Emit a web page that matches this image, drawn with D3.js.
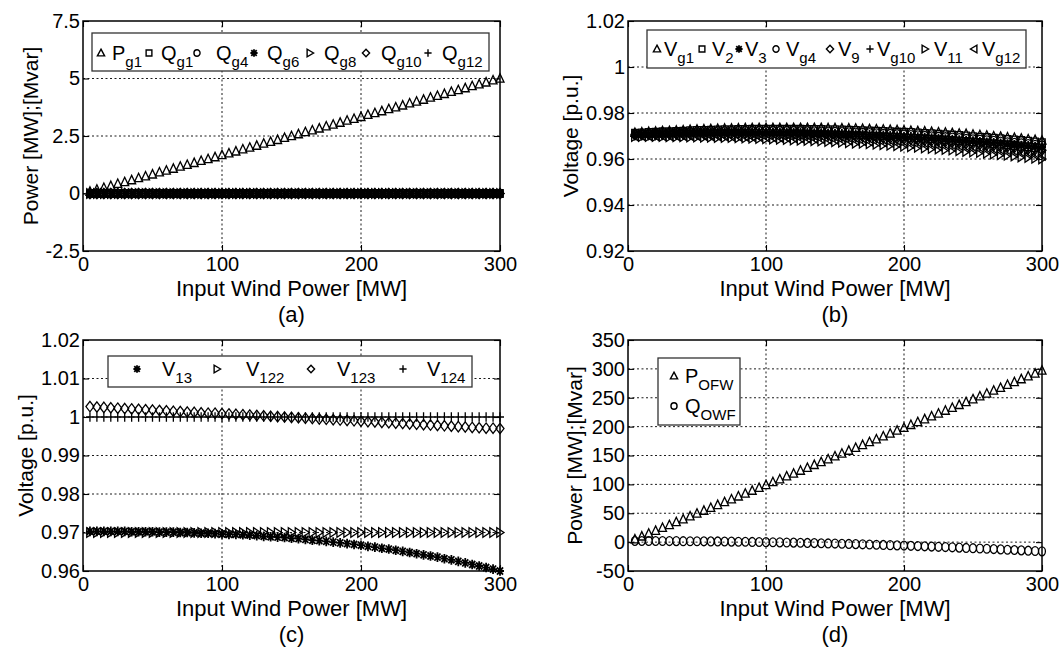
<!DOCTYPE html>
<html><head><meta charset="utf-8">
<script src="https://cdn.jsdelivr.net/npm/d3@7/dist/d3.min.js"></script>
<style>
html,body{margin:0;padding:0;background:#fff;}
svg{display:block;}
text{font-family:"Liberation Sans",Arial,Helvetica,sans-serif;fill:#000;}
</style></head>
<body>
<svg id="chart" width="1062" height="652"></svg>
<script>
// ---------------- DATA ----------------
const xMW = [5,10,15,20,25,30,35,40,45,50,55,60,65,70,75,80,85,90,95,100,
  105,110,115,120,125,130,135,140,145,150,155,160,165,170,175,180,185,190,195,200,
  205,210,215,220,225,230,235,240,245,250,255,260,265,270,275,280,285,290,295,300];
const xTicks = [0,100,200,300];
const xTickLabels = ["0","100","200","300"];

// (a) generator powers
const Pg1 = [0.08,0.17,0.25,0.33,0.42,0.5,0.58,0.67,0.75,0.83,0.92,1.0,1.08,1.17,1.25,1.33,1.42,1.5,1.58,1.67,
  1.75,1.83,1.92,2.0,2.08,2.17,2.25,2.33,2.42,2.5,2.58,2.67,2.75,2.83,2.92,3.0,3.08,3.17,3.25,3.33,
  3.42,3.5,3.58,3.67,3.75,3.83,3.92,4.0,4.08,4.17,4.25,4.33,4.42,4.5,4.58,4.67,4.75,4.83,4.92,5.0];
const Qg1 = [0,0,0,0,0,0,0,0,0,0,0,0,0,0,0,0,0,0,0,0,0,0,0,0,0,0,0,0,0,0,0,0,0,0,0,0,0,0,0,0,0,0,0,0,0,0,0,0,0,0,0,0,0,0,0,0,0,0,0,0];
const Qg4 = [0,0,0,0,0,0,0,0,0,0,0,0,0,0,0,0,0,0,0,0,0,0,0,0,0,0,0,0,0,0,0,0,0,0,0,0,0,0,0,0,0,0,0,0,0,0,0,0,0,0,0,0,0,0,0,0,0,0,0,0];
const Qg6 = [0,0,0,0,0,0,0,0,0,0,0,0,0,0,0,0,0,0,0,0,0,0,0,0,0,0,0,0,0,0,0,0,0,0,0,0,0,0,0,0,0,0,0,0,0,0,0,0,0,0,0,0,0,0,0,0,0,0,0,0];
const Qg8 = [0,0,0,0,0,0,0,0,0,0,0,0,0,0,0,0,0,0,0,0,0,0,0,0,0,0,0,0,0,0,0,0,0,0,0,0,0,0,0,0,0,0,0,0,0,0,0,0,0,0,0,0,0,0,0,0,0,0,0,0];
const Qg10 = [0,0,0,0,0,0,0,0,0,0,0,0,0,0,0,0,0,0,0,0,0,0,0,0,0,0,0,0,0,0,0,0,0,0,0,0,0,0,0,0,0,0,0,0,0,0,0,0,0,0,0,0,0,0,0,0,0,0,0,0];
const Qg12 = [0,0,0,0,0,0,0,0,0,0,0,0,0,0,0,0,0,0,0,0,0,0,0,0,0,0,0,0,0,0,0,0,0,0,0,0,0,0,0,0,0,0,0,0,0,0,0,0,0,0,0,0,0,0,0,0,0,0,0,0];
const yTicksA = [-2.5,0,2.5,5,7.5];
const yTickLabelsA = ["-2.5","0","2.5","5","7.5"];

// (b) bus voltages
const Vg1 = [0.9714,0.9716,0.9718,0.9719,0.9721,0.9722,0.9724,0.9725,0.9727,0.9728,
  0.9729,0.9730,0.9731,0.9732,0.9732,0.9733,0.9734,0.9734,0.9735,0.9735,
  0.9735,0.9735,0.9735,0.9735,0.9735,0.9735,0.9735,0.9735,0.9734,0.9734,
  0.9733,0.9733,0.9732,0.9731,0.9730,0.9729,0.9728,0.9727,0.9726,0.9724,
  0.9723,0.9721,0.9720,0.9718,0.9716,0.9715,0.9713,0.9711,0.9709,0.9706,
  0.9704,0.9702,0.9699,0.9697,0.9694,0.9692,0.9689,0.9686,0.9683,0.9680];
const V2 = [0.9712,0.9713,0.9715,0.9716,0.9718,0.9719,0.9720,0.9721,0.9723,0.9724,
  0.9724,0.9725,0.9726,0.9727,0.9727,0.9728,0.9728,0.9729,0.9729,0.9729,
  0.9729,0.9729,0.9729,0.9729,0.9729,0.9728,0.9728,0.9728,0.9727,0.9727,
  0.9726,0.9725,0.9724,0.9723,0.9722,0.9721,0.9720,0.9719,0.9717,0.9716,
  0.9715,0.9713,0.9711,0.9710,0.9708,0.9706,0.9704,0.9702,0.9700,0.9697,
  0.9695,0.9693,0.9690,0.9688,0.9685,0.9683,0.9680,0.9677,0.9674,0.9671];
const V3 = [0.9707,0.9708,0.9709,0.9710,0.9711,0.9712,0.9713,0.9714,0.9714,0.9715,
  0.9715,0.9716,0.9716,0.9716,0.9717,0.9717,0.9717,0.9717,0.9717,0.9717,
  0.9716,0.9716,0.9716,0.9715,0.9715,0.9714,0.9713,0.9713,0.9712,0.9711,
  0.9710,0.9709,0.9708,0.9707,0.9705,0.9704,0.9703,0.9701,0.9700,0.9698,
  0.9696,0.9695,0.9693,0.9691,0.9689,0.9687,0.9685,0.9682,0.9680,0.9678,
  0.9675,0.9673,0.9670,0.9668,0.9665,0.9662,0.9659,0.9657,0.9654,0.9651];
const Vg4 = [0.9709,0.9711,0.9712,0.9713,0.9715,0.9716,0.9717,0.9718,0.9718,0.9719,
  0.9720,0.9720,0.9721,0.9721,0.9722,0.9722,0.9722,0.9722,0.9723,0.9722,
  0.9722,0.9722,0.9722,0.9722,0.9721,0.9721,0.9720,0.9720,0.9719,0.9718,
  0.9717,0.9716,0.9715,0.9714,0.9713,0.9712,0.9710,0.9709,0.9708,0.9706,
  0.9704,0.9703,0.9701,0.9699,0.9697,0.9695,0.9693,0.9691,0.9688,0.9686,
  0.9684,0.9681,0.9679,0.9676,0.9673,0.9670,0.9668,0.9665,0.9662,0.9659];
const V9 = [0.9705,0.9706,0.9707,0.9707,0.9708,0.9709,0.9709,0.9710,0.9710,0.9710,
  0.9711,0.9711,0.9711,0.9711,0.9711,0.9711,0.9711,0.9711,0.9710,0.9710,
  0.9710,0.9709,0.9708,0.9708,0.9707,0.9706,0.9705,0.9705,0.9704,0.9703,
  0.9701,0.9700,0.9699,0.9698,0.9696,0.9695,0.9693,0.9691,0.9690,0.9688,
  0.9686,0.9684,0.9682,0.9680,0.9678,0.9676,0.9674,0.9671,0.9669,0.9667,
  0.9664,0.9661,0.9659,0.9656,0.9653,0.9650,0.9647,0.9644,0.9641,0.9638];
const Vg10 = [0.9703,0.9703,0.9704,0.9704,0.9705,0.9705,0.9706,0.9706,0.9706,0.9706,
  0.9706,0.9706,0.9706,0.9706,0.9706,0.9706,0.9705,0.9705,0.9705,0.9704,
  0.9703,0.9703,0.9702,0.9701,0.9700,0.9700,0.9699,0.9698,0.9696,0.9695,
  0.9694,0.9693,0.9691,0.9690,0.9688,0.9687,0.9685,0.9684,0.9682,0.9680,
  0.9678,0.9676,0.9674,0.9672,0.9670,0.9668,0.9665,0.9663,0.9661,0.9658,
  0.9656,0.9653,0.9650,0.9648,0.9645,0.9642,0.9639,0.9636,0.9633,0.9630];
const V11 = [0.9698,0.9698,0.9698,0.9698,0.9698,0.9697,0.9697,0.9697,0.9696,0.9696,
  0.9695,0.9695,0.9694,0.9693,0.9693,0.9692,0.9691,0.9690,0.9689,0.9688,
  0.9687,0.9686,0.9685,0.9683,0.9682,0.9681,0.9679,0.9678,0.9676,0.9675,
  0.9673,0.9671,0.9669,0.9668,0.9666,0.9664,0.9662,0.9660,0.9658,0.9655,
  0.9653,0.9651,0.9648,0.9646,0.9644,0.9641,0.9639,0.9636,0.9633,0.9631,
  0.9628,0.9625,0.9622,0.9619,0.9616,0.9613,0.9609,0.9607,0.9603,0.9600];
const Vg12 = [0.9700,0.9701,0.9701,0.9701,0.9701,0.9701,0.9701,0.9701,0.9701,0.9701,
  0.9701,0.9700,0.9700,0.9700,0.9699,0.9699,0.9698,0.9697,0.9697,0.9696,
  0.9695,0.9694,0.9693,0.9692,0.9691,0.9690,0.9689,0.9688,0.9686,0.9685,
  0.9684,0.9682,0.9681,0.9679,0.9677,0.9676,0.9674,0.9672,0.9670,0.9668,
  0.9666,0.9664,0.9662,0.9660,0.9657,0.9655,0.9653,0.9650,0.9648,0.9645,
  0.9642,0.9640,0.9637,0.9634,0.9631,0.9628,0.9625,0.9622,0.9619,0.9616];
const yTicksB = [0.92,0.94,0.96,0.98,1.0,1.02];
const yTickLabelsB = ["0.92","0.94","0.96","0.98","1","1.02"];

// (c) wind farm bus voltages
const V13 = [0.9703,0.9703,0.9703,0.9703,0.9703,0.9703,0.9702,0.9702,0.9702,0.9702,
  0.9701,0.9701,0.9701,0.9700,0.9700,0.9699,0.9698,0.9698,0.9697,0.9696,
  0.9695,0.9695,0.9694,0.9693,0.9692,0.9690,0.9689,0.9688,0.9687,0.9685,
  0.9684,0.9682,0.9680,0.9679,0.9677,0.9675,0.9673,0.9671,0.9669,0.9667,
  0.9664,0.9662,0.9659,0.9657,0.9654,0.9651,0.9648,0.9645,0.9642,0.9639,
  0.9636,0.9632,0.9629,0.9625,0.9621,0.9617,0.9613,0.9609,0.9605,0.9600];
const V122 = [0.97,0.97,0.97,0.97,0.97,0.97,0.97,0.97,0.97,0.97,0.97,0.97,0.97,0.97,0.97,0.97,0.97,0.97,0.97,0.97,
  0.97,0.97,0.97,0.97,0.97,0.97,0.97,0.97,0.97,0.97,0.97,0.97,0.97,0.97,0.97,0.97,0.97,0.97,0.97,0.97,
  0.97,0.97,0.97,0.97,0.97,0.97,0.97,0.97,0.97,0.97,0.97,0.97,0.97,0.97,0.97,0.97,0.97,0.97,0.97,0.97];
const V123 = [1.0027,1.0026,1.0025,1.0024,1.0023,1.0022,1.0021,1.0020,1.0019,1.0018,
  1.0017,1.0016,1.0015,1.0014,1.0013,1.0012,1.0011,1.0010,1.0010,1.0009,
  1.0008,1.0007,1.0006,1.0005,1.0004,1.0003,1.0002,1.0001,1.0000,0.9999,
  0.9998,0.9997,0.9996,0.9995,0.9994,0.9993,0.9992,0.9991,0.9990,0.9989,
  0.9988,0.9987,0.9986,0.9985,0.9984,0.9983,0.9982,0.9981,0.9980,0.9979,
  0.9978,0.9977,0.9976,0.9975,0.9974,0.9973,0.9972,0.9971,0.9971,0.9970];
const V124 = [1,1,1,1,1,1,1,1,1,1,1,1,1,1,1,1,1,1,1,1,1,1,1,1,1,1,1,1,1,1,
  1,1,1,1,1,1,1,1,1,1,1,1,1,1,1,1,1,1,1,1,1,1,1,1,1,1,1,1,1,1];
const yTicksC = [0.96,0.97,0.98,0.99,1.0,1.01,1.02];
const yTickLabelsC = ["0.96","0.97","0.98","0.99","1","1.01","1.02"];

// (d) offshore wind farm output
const POFW = [5.0,9.9,14.9,19.8,24.8,29.7,34.7,39.6,44.6,49.5,54.5,59.4,64.4,69.3,74.3,79.2,84.2,89.1,94.1,99.0,
  104.0,108.9,113.9,118.8,123.8,128.7,133.7,138.6,143.6,148.5,153.5,158.4,163.4,168.3,173.3,178.2,183.2,188.1,193.1,198.0,
  203.0,207.9,212.9,217.8,222.8,227.7,232.7,237.6,242.6,247.5,252.5,257.4,262.4,267.3,272.3,277.2,282.2,287.1,292.1,297.0];
const QOWF = [2.0,1.98,1.96,1.92,1.88,1.82,1.76,1.68,1.6,1.5,1.4,1.28,1.16,1.02,0.88,0.72,0.56,0.38,0.2,0,
  -0.2,-0.42,-0.65,-0.88,-1.13,-1.38,-1.65,-1.92,-2.21,-2.5,-2.81,-3.12,-3.45,-3.78,-4.13,-4.48,-4.85,-5.22,-5.61,-6.0,
  -6.41,-6.82,-7.25,-7.68,-8.13,-8.58,-9.05,-9.52,-10.0,-10.5,-11.0,-11.52,-12.05,-12.58,-13.13,-13.68,-14.25,-14.82,-15.41,-16.0];
const yTicksD = [-50,0,50,100,150,200,250,300,350];
const yTickLabelsD = ["-50","0","50","100","150","200","250","300","350"];

// ---------------- LAYOUT ----------------
const TICKFONT = 20, TITLEFONT = 22, YLABFONT = 21, LEGFONT = 20, SUBFONT = 15;
const panels = [
  { left:83, right:500, top:21, bottom:251, dom:[-2.5,7.5], ticks:yTicksA, labels:yTickLabelsA,
    ylabel:"Power [MW];[Mvar]", ylabX:30, letter:"(a)",
    series:[["P","g1","tri",Pg1],["Q","g1","sq",Qg1],["Q","g4","circ",Qg4],["Q","g6","ast",Qg6],
            ["Q","g8","triR",Qg8],["Q","g10","dia",Qg10],["Q","g12","plus",Qg12]],
    legend:{x0:92,x1:489,y0:33,y1:71,base:60,
      mk:[101,149,197,254,310,366,428], tx:[112,161,216,267,324,381,442]} },
  { left:628, right:1042, top:21, bottom:251, dom:[0.92,1.02], ticks:yTicksB, labels:yTickLabelsB,
    ylabel:"Voltage [p.u.]", ylabX:570, letter:"(b)",
    series:[["V","g1","tri",Vg1],["V","2","sq",V2],["V","3","ast",V3],["V","g4","circ",Vg4],
            ["V","9","dia",V9],["V","g10","plus",Vg10],["V","11","triR",V11],["V","g12","triL",Vg12]],
    legend:{x0:647,x1:1026,y0:30,y1:68,base:56,
      mk:[657,702,739,776,830,870,925,974], tx:[664,712,745,786,838,877,934,982]} },
  { left:83, right:500, top:340, bottom:571, dom:[0.96,1.02], ticks:yTicksC, labels:yTickLabelsC,
    ylabel:"Voltage [p.u.]", ylabX:25, letter:"(c)",
    series:[["V","13","ast",V13],["V","122","triR",V122],["V","123","dia",V123],["V","124","plus",V124]],
    legend:{x0:108,x1:472,y0:356,y1:387,base:376,
      mk:[137,217,311,403], tx:[162,246,337,427]} },
  { left:628, right:1042, top:340, bottom:571, dom:[-50,350], ticks:yTicksD, labels:yTickLabelsD,
    ylabel:"Power [MW];[Mvar]", ylabX:574, letter:"(d)",
    series:[["P","OFW","tri",POFW],["Q","OWF","circ",QOWF]],
    legend:{x0:658,x1:740,y0:358,y1:425,vertical:true, base:[383,413],
      mk:[674,674], tx:[685,685]} }
];

// ---------------- MARKERS ----------------
function markerPath(type, cx, cy, rx, ry){
  switch(type){
    case "tri":  return `M${cx},${cy-ry}L${cx+rx},${cy+ry*0.75}L${cx-rx},${cy+ry*0.75}Z`;
    case "triR": return `M${cx+rx},${cy}L${cx-rx*0.8},${cy-ry}L${cx-rx*0.8},${cy+ry}Z`;
    case "triL": return `M${cx-rx},${cy}L${cx+rx*0.8},${cy-ry}L${cx+rx*0.8},${cy+ry}Z`;
    case "sq":   return `M${cx-rx*0.8},${cy-ry*0.8}H${cx+rx*0.8}V${cy+ry*0.8}H${cx-rx*0.8}Z`;
    case "dia":  return `M${cx},${cy-ry}L${cx+rx},${cy}L${cx},${cy+ry}L${cx-rx},${cy}Z`;
    case "circ": return `M${cx-rx*0.85},${cy}A${rx*0.85},${ry*0.85} 0 1 0 ${cx+rx*0.85},${cy}A${rx*0.85},${ry*0.85} 0 1 0 ${cx-rx*0.85},${cy}Z`;
    case "plus": return `M${cx-rx},${cy}H${cx+rx}M${cx},${cy-ry}V${cy+ry}`;
    case "ast": { const a=rx*0.75, b=ry*0.75;
      return `M${cx},${cy-ry}V${cy+ry}M${cx-rx},${cy}H${cx+rx}M${cx-a},${cy-b}L${cx+a},${cy+b}M${cx+a},${cy-b}L${cx-a},${cy+b}`; }
  }
}

const svg = d3.select("#chart");

panels.forEach(p => {
  const g = svg.append("g");
  const x = d3.scaleLinear().domain([0,300]).range([p.left,p.right]);
  const y = d3.scaleLinear().domain(p.dom).range([p.bottom,p.top]);
  const W = p.right-p.left, H = p.bottom-p.top;

  // grid
  const grid = g.append("g").attr("stroke","#000").attr("stroke-width",0.9).attr("stroke-dasharray","2,2.5");
  grid.selectAll("line.gx").data(xTicks.slice(1,-1)).join("line")
    .attr("x1",d=>x(d)).attr("x2",d=>x(d)).attr("y1",p.top).attr("y2",p.bottom);
  grid.selectAll("line.gy").data(p.ticks.slice(1,-1)).join("line")
    .attr("y1",d=>y(d)).attr("y2",d=>y(d)).attr("x1",p.left).attr("x2",p.right);

  // markers
  p.series.forEach(s => {
    const type = s[2], vals = s[3];
    const rx = 4.0, ry = (type==="dia"||type==="circ")?5.2:4.8;
    g.append("path")
      .attr("d", vals.map((v,i)=>markerPath(type, x(xMW[i]), y(v), rx, ry)).join(""))
      .attr("fill","none").attr("stroke","#000")
      .attr("stroke-width", type==="ast"?1.8:1.3).attr("stroke-linejoin","miter");
  });

  // axes (ticks inward on all four sides)
  const tickLen = 6;
  const ax = (axis, tx, ty, showLabels) => {
    const gg = g.append("g").attr("transform",`translate(${tx},${ty})`).call(axis);
    gg.select(".domain").remove();
    gg.selectAll(".tick line").attr("stroke","#000").attr("stroke-width",1.1);
    if(!showLabels) gg.selectAll(".tick text").remove();
    else gg.selectAll(".tick text").attr("font-size",TICKFONT)
      .attr("font-family","'Liberation Sans',Arial,sans-serif").attr("fill","#000");
    return gg;
  };
  ax(d3.axisBottom(x).tickValues(xTicks).tickFormat((d,i)=>xTickLabels[i]).tickSize(-tickLen).tickPadding(6), 0, p.bottom, true);
  ax(d3.axisTop(x).tickValues(xTicks).tickSize(-tickLen), 0, p.top, false);
  ax(d3.axisLeft(y).tickValues(p.ticks).tickFormat((d,i)=>p.labels[i]).tickSize(-tickLen).tickPadding(3), p.left, 0, true);
  ax(d3.axisRight(y).tickValues(p.ticks).tickSize(-tickLen), p.right, 0, false);

  // frame
  g.append("rect").attr("x",p.left).attr("y",p.top).attr("width",W).attr("height",H)
    .attr("fill","none").attr("stroke","#000").attr("stroke-width",1.5);

  // labels
  const cx = (p.left+p.right)/2;
  g.append("text").attr("x",cx).attr("y",p.bottom+45).attr("text-anchor","middle")
    .attr("font-size",TITLEFONT).text("Input Wind Power [MW]");
  g.append("text").attr("x",cx).attr("y",p.bottom+71).attr("text-anchor","middle")
    .attr("font-size",TITLEFONT).text(p.letter);
  g.append("text").attr("transform",`translate(${p.ylabX},${(p.top+p.bottom)/2}) rotate(-90)`)
    .attr("text-anchor","middle").attr("dominant-baseline","central")
    .attr("font-size",YLABFONT).text(p.ylabel);

  // legend
  const L = p.legend;
  const lg = g.append("g");
  lg.append("rect").attr("x",L.x0).attr("y",L.y0).attr("width",L.x1-L.x0).attr("height",L.y1-L.y0)
    .attr("fill","#fff").attr("stroke","#333").attr("stroke-width",1.3);
  p.series.forEach((s,i) => {
    const base = L.vertical ? L.base[i] : L.base;
    const my = base - 7;
    lg.append("path").attr("d", markerPath(s[2], L.mk[i], my, 3.6, 3.8))
      .attr("fill","none").attr("stroke","#000").attr("stroke-width", s[2]==="ast"?1.8:1.4);
    const t = lg.append("text").attr("x",L.tx[i]).attr("y",base).attr("font-size",LEGFONT);
    t.append("tspan").text(s[0]);
    t.append("tspan").attr("dy",7).attr("font-size",SUBFONT).text(s[1]);
  });
});
</script>
</body></html>
